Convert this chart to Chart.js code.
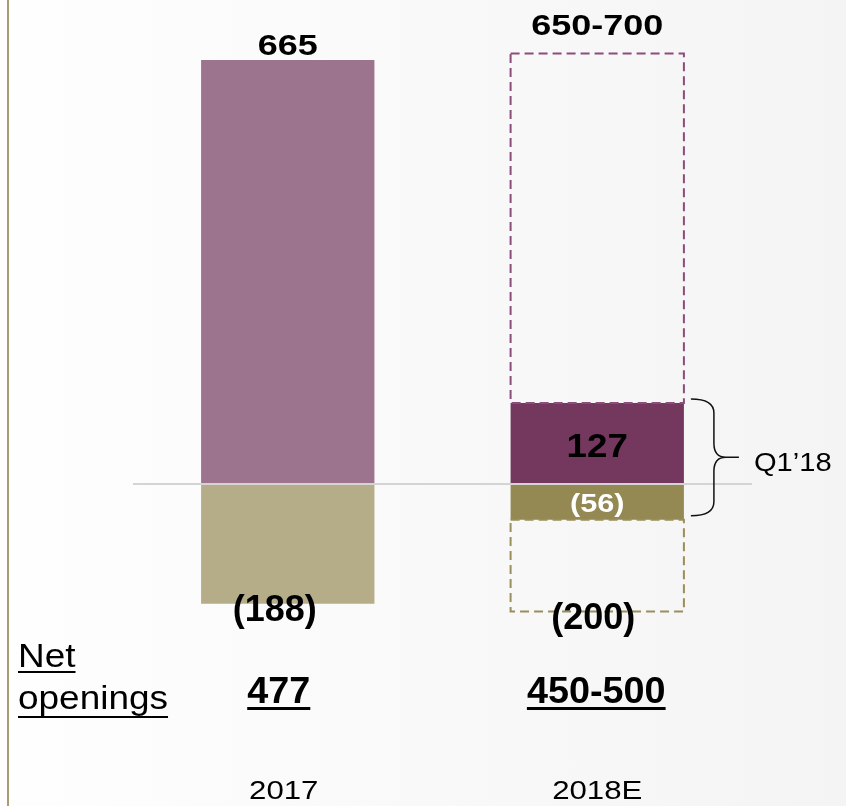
<!DOCTYPE html>
<html lang="en">
<head>
    <meta charset="UTF-8">
    <title>Openings and closures</title>
    <script src="https://cdn.jsdelivr.net/npm/chart.js"></script>
    <style>
        body {
            margin: 0;
            background: linear-gradient(to right, #fefefe, #f4f4f4);
        }
        .panel {
            position: relative;
            width: 846px;
            height: 806px;
        }
        /* thin khaki rule down the left edge */
        .panel::before {
            content: '';
            position: absolute;
            left: 7px;
            top: 0;
            width: 2px;
            height: 100%;
            background: #a49e70;
        }
    </style>
</head>
<body>
<div class="panel">
    <canvas id="grafica"></canvas>
</div>

<script>
    const years = ['2017', '2018E'];
    const openings = [665, 127];              // 2018E: Q1 actual
    const closures = [-188, -56];
    const openingsTarget = [null, [127, 675]];   // rest of the full-year range
    const closuresTarget = [null, [-56, -200]];
    const topLabels = ['665', '650-700'];
    const bottomLabels = ['(188)', '(200)'];
    const netLabels = ['477', '450-500'];
    const quarterLabel = 'Q1\u201918';

    const FONT = '"Liberation Sans", Arial, sans-serif';

    // text drawn slightly wider than the font's natural width
    function wideText(ctx, text, x, y, align, sx) {
        const w = ctx.measureText(text).width * sx;
        const left = align === 'center' ? x - w / 2 : x;
        ctx.save();
        ctx.translate(left, y);
        ctx.scale(sx, 1);
        ctx.textAlign = 'left';
        ctx.fillText(text, 0, 0);
        ctx.restore();
        return { left, w };
    }

    function underlined(ctx, text, x, y, align, sx, gap, thick) {
        const r = wideText(ctx, text, x, y, align, sx);
        ctx.fillRect(r.left, y + gap, r.w, thick);
    }

    const extras = {
        id: 'extras',
        afterDatasetsDraw(chart) {
            const ctx = chart.ctx;
            const y = chart.scales.y;
            const bars = chart.getDatasetMeta(0).data;
            const dashColors = ['#8b4d7b', '#9a8f5a'];

            // dashed boxes for the guidance ranges
            [2, 3].forEach((di, k) => {
                chart.getDatasetMeta(di).data.forEach((el, i) => {
                    const raw = chart.data.datasets[di].data[i];
                    if (!raw) return;
                    const p = el.getProps(['x', 'y', 'base', 'width'], true);
                    ctx.save();
                    ctx.strokeStyle = dashColors[k];
                    ctx.lineWidth = 2;
                    ctx.setLineDash([9, 5]);
                    ctx.strokeRect(p.x - p.width / 2, Math.min(p.y, p.base), p.width, Math.abs(p.base - p.y));
                    ctx.restore();
                });
            });

            ctx.save();
            ctx.fillStyle = '#000';
            ctx.textBaseline = 'alphabetic';

            years.forEach((yr, i) => {
                const bx = bars[i].x;
                const hasTarget = openingsTarget[i] !== null;
                const top = hasTarget ? openingsTarget[i][1] : openings[i];
                const bottom = hasTarget ? closuresTarget[i][1] : closures[i];

                ctx.fillStyle = '#000';
                ctx.font = 'bold 30px ' + FONT;
                wideText(ctx, topLabels[i], bx, y.getPixelForValue(top) - (hasTarget ? 19 : 5), 'center', 1.2);

                ctx.font = 'bold 36px ' + FONT;
                wideText(ctx, bottomLabels[i], bx - (hasTarget ? 4 : 13), y.getPixelForValue(bottom) + 17, 'center', 1);

                // values printed inside the quarter bars
                if (hasTarget) {
                    const midPos = (y.getPixelForValue(openings[i]) + y.getPixelForValue(0)) / 2;
                    const midNeg = (y.getPixelForValue(closures[i]) + y.getPixelForValue(0)) / 2;
                    ctx.font = 'bold 34px ' + FONT;
                    wideText(ctx, String(openings[i]), bx, midPos + 14, 'center', 1.08);
                    ctx.fillStyle = '#fff';
                    ctx.font = 'bold 26px ' + FONT;
                    wideText(ctx, '(' + (-closures[i]) + ')', bx, midNeg + 10, 'center', 1.18);
                    ctx.fillStyle = '#000';
                }

                ctx.font = 'bold 36px ' + FONT;
                underlined(ctx, netLabels[i], bx - (hasTarget ? 1 : 9), 703, 'center', 1.05, 4, 3);

                ctx.font = '26px ' + FONT;
                wideText(ctx, yr, bx - (hasTarget ? 0 : 4), 799, 'center', 1.2);
            });

            ctx.font = '33px ' + FONT;
            underlined(ctx, 'Net', 18, 667, 'left', 1.12, 4, 2);
            underlined(ctx, 'openings', 18, 709, 'left', 1.12, 7, 2);

            // brace around the Q1 bars
            const q = bars[1];
            const x0 = q.x + q.width / 2 + 7;
            const yT = y.getPixelForValue(openings[1]) - 4;
            const yB = y.getPixelForValue(closures[1]) - 4;
            const yM = (yT + yB) / 2;
            const xm = x0 + 23, tip = x0 + 48, r = 14;
            ctx.beginPath();
            ctx.moveTo(x0, yT);
            ctx.quadraticCurveTo(xm, yT, xm, yT + r);
            ctx.lineTo(xm, yM - r);
            ctx.quadraticCurveTo(xm, yM, xm + 12, yM);
            ctx.lineTo(tip, yM);
            ctx.moveTo(xm + 12, yM);
            ctx.quadraticCurveTo(xm, yM, xm, yM + r);
            ctx.lineTo(xm, yB - r);
            ctx.quadraticCurveTo(xm, yB, x0, yB);
            ctx.strokeStyle = '#111';
            ctx.lineWidth = 1.5;
            ctx.stroke();

            ctx.font = '26px ' + FONT;
            wideText(ctx, quarterLabel, tip + 15, yM + 14, 'left', 1.12);
            ctx.restore();
        }
    };

    const ctx = document.getElementById('grafica').getContext('2d');
    new Chart(ctx, {
        type: 'bar',
        data: {
            labels: years,
            datasets: [
                { data: openings, backgroundColor: ['#9d748d', '#74385f'] },
                { data: closures, backgroundColor: ['#b5ac88', '#948953'] },
                { data: openingsTarget, backgroundColor: 'transparent' },
                { data: closuresTarget, backgroundColor: 'transparent' }
            ]
        },
        options: {
            responsive: true,
            maintainAspectRatio: false,
            animation: false,
            layout: { padding: { left: 133, right: 94, top: 0, bottom: 0 } },
            datasets: {
                bar: { grouped: false, barPercentage: 0.56, categoryPercentage: 1, borderWidth: 0 }
            },
            plugins: { legend: { display: false }, tooltip: { enabled: false } },
            scales: {
                x: { display: false },
                y: {
                    display: true,
                    min: -505,
                    max: 759,
                    ticks: { display: false },
                    border: { display: false },
                    grid: {
                        drawTicks: false,
                        lineWidth: 2,
                        color: c => c.tick.value === 0 ? '#d4d4d4' : 'transparent'
                    },
                    afterBuildTicks: s => { s.ticks = [{ value: 0 }]; }
                }
            }
        },
        plugins: [extras]
    });
</script>
</body>
</html>
